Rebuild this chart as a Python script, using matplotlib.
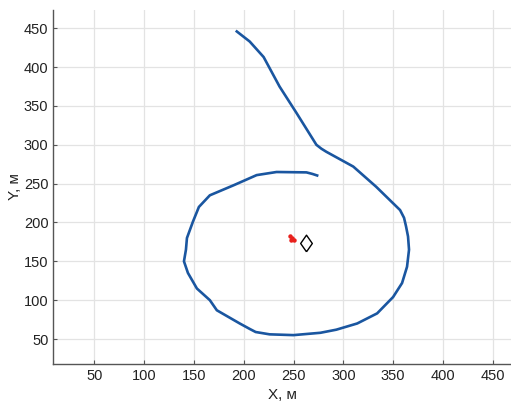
import matplotlib
matplotlib.use("Agg")
import matplotlib.pyplot as plt

plt.rcParams['font.family'] = ['Liberation Sans', 'DejaVu Sans']

# trajectory, m
traj_x = [192, 206, 220, 236, 253, 273, 278, 283, 310, 333, 357, 361, 363, 365,
          366, 364, 359, 350, 334, 314, 293, 277, 250, 226, 212, 206, 196, 173,
          166, 153, 144, 140, 142, 143, 149, 155, 166, 190, 213, 233, 263, 269, 275]
traj_y = [447, 433, 413, 375, 341, 300, 295, 291, 272, 246, 216, 206, 195, 182,
          165, 143, 122, 104, 83, 70, 62, 58, 55, 56, 59, 63, 70, 87,
          100, 115, 135, 150, 165, 180, 201, 220, 235, 248, 261, 265, 264.5, 262.5, 260]

# red cluster points
red_x = [246, 248, 250, 247]
red_y = [182, 180, 178, 178]

# diamond marker
dia_x = [263]
dia_y = [173]

xticks = [50, 100, 150, 200, 250, 300, 350, 400, 450]
yticks = [50, 100, 150, 200, 250, 300, 350, 400, 450]

fig = plt.figure(figsize=(5.11, 4.05), dpi=100)
ax = fig.add_axes([0.1043, 0.1012, 0.8957, 0.874])

ax.plot(traj_x, traj_y, color='#1a56a0', linewidth=1.9,
        solid_joinstyle='round', solid_capstyle='butt')
ax.plot(red_x, red_y, 'o', color='#e8201c', ms=3.2, mec='none')
dmark = [(0, -1), (0.7, 0), (0, 1), (-0.7, 0), (0, -1)]
ax.plot(dia_x, dia_y, marker=dmark, ls='none', mfc='white', mec='black',
        ms=12, mew=1.0)

ax.set_xlim(8.8, 468.4)
ax.set_ylim(17.8, 473.5)
ax.set_xticks(xticks)
ax.set_yticks(yticks)

ax.grid(True, color='#e3e3e3', linewidth=0.9)
ax.set_axisbelow(True)
for s in ['top', 'right']:
    ax.spines[s].set_visible(False)
for s in ['left', 'bottom']:
    ax.spines[s].set_color('#555555')
    ax.spines[s].set_linewidth(1.0)
ax.tick_params(direction='in', length=3, color='#555555', labelsize=10.5,
               labelcolor='#222222')

ax.set_xlabel('X, м', fontsize=11, color='#222222', labelpad=4)
ax.set_ylabel('Y, м', fontsize=11, color='#222222', labelpad=1)

fig.savefig('out.png', dpi=100)
